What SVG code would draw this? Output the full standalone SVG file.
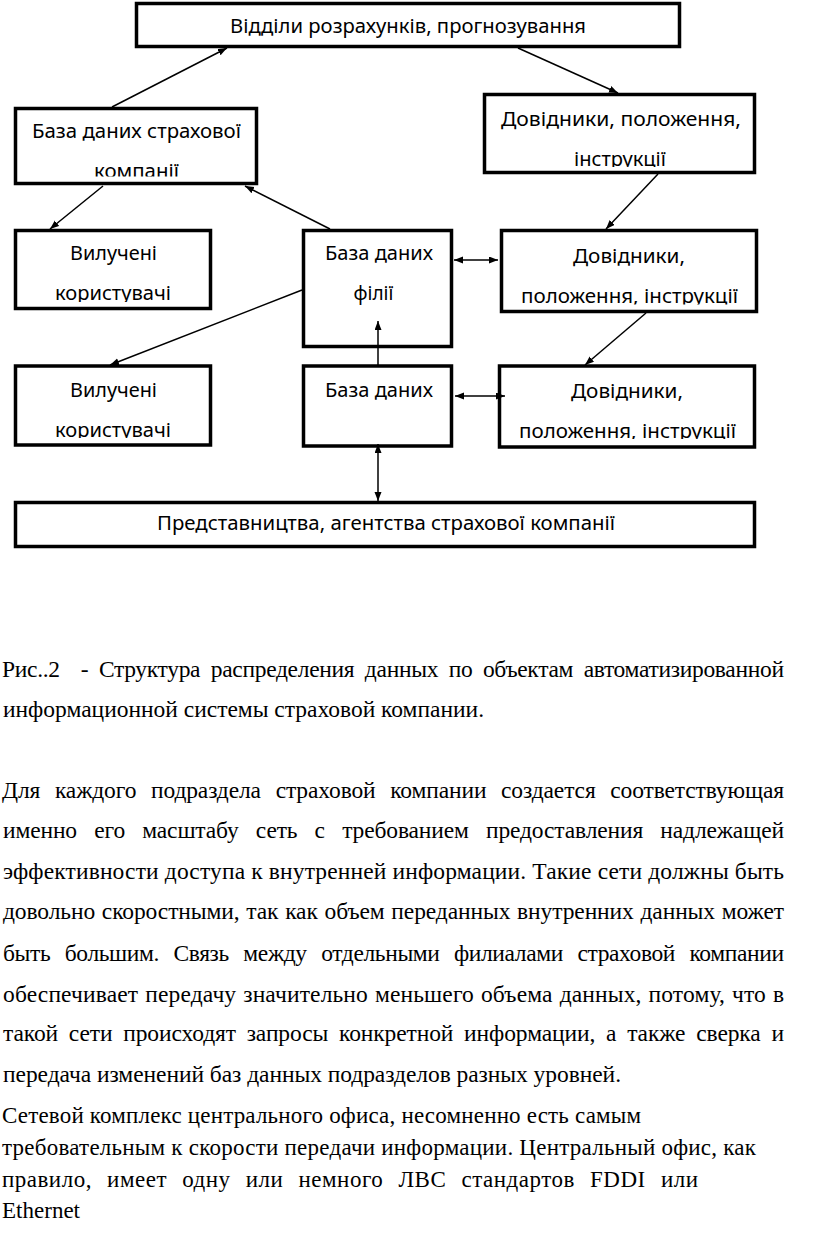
<svg xmlns="http://www.w3.org/2000/svg" width="816" height="1246" viewBox="0 0 816 1246">
<style>
.box{fill:#fff;stroke:#000;stroke-width:3.5}
.lbl{font-family:"Noto Sans","Open Sans","DejaVu Sans",sans-serif;font-size:19px;fill:#000;text-anchor:middle}
.con{stroke:#000;stroke-width:1.5;fill:none}
.par{font-family:"Liberation Serif","Times New Roman",serif;font-size:23.5px;fill:#000}
.par2{font-family:"Liberation Serif","Times New Roman",serif;font-size:23px;fill:#000}
</style>
<defs>
<marker id="ah" markerUnits="userSpaceOnUse" markerWidth="10" markerHeight="8" refX="9" refY="3.5" orient="auto-start-reverse">
<path d="M0,0 L9,3.5 L0,7 z" fill="#000"/>
</marker>
<clipPath id="c1"><rect x="16" y="109" width="240" height="67.5"/></clipPath>
<clipPath id="c2"><rect x="485" y="95" width="269" height="72"/></clipPath>
<clipPath id="c3"><rect x="16" y="231" width="194" height="71"/></clipPath>
<clipPath id="c4"><rect x="502" y="231" width="254" height="73.5"/></clipPath>
<clipPath id="c5"><rect x="16" y="367" width="194" height="71"/></clipPath>
<clipPath id="c6"><rect x="500" y="367" width="254" height="72"/></clipPath>
</defs>

<g id="node-top">
<rect class="box" x="136.5" y="3.5" width="543" height="43"/>
<text class="lbl" x="408" y="33" textLength="356" lengthAdjust="spacingAndGlyphs">Відділи розрахунків, прогнозування</text>
</g>
<g id="node-db-company">
<rect class="box" x="15.5" y="108.5" width="241" height="75"/>
<text class="lbl" x="136.5" y="138" textLength="209" lengthAdjust="spacingAndGlyphs">База даних страхової</text>
<text class="lbl" x="136.5" y="178" textLength="85" lengthAdjust="spacingAndGlyphs" clip-path="url(#c1)">компанії</text>
</g>
<g id="node-ref-top">
<rect class="box" x="484.5" y="94.5" width="270" height="78"/>
<text class="lbl" x="621" y="126" textLength="240" lengthAdjust="spacingAndGlyphs">Довідники, положення,</text>
<text class="lbl" x="620" y="166" textLength="92" lengthAdjust="spacingAndGlyphs" clip-path="url(#c2)">інструкції</text>
</g>
<g id="node-users-1">
<rect class="box" x="15.5" y="230.5" width="195" height="78"/>
<text class="lbl" x="113.5" y="260" textLength="87" lengthAdjust="spacingAndGlyphs">Вилучені</text>
<text class="lbl" x="113" y="300" textLength="116" lengthAdjust="spacingAndGlyphs" clip-path="url(#c3)">користувачі</text>
</g>
<g id="node-db-branch">
<rect class="box" x="303.5" y="230.5" width="148" height="116"/>
<text class="lbl" x="379" y="260" textLength="108" lengthAdjust="spacingAndGlyphs">База даних</text>
<text class="lbl" x="373.5" y="300">філії</text>
</g>
<g id="node-ref-1">
<rect class="box" x="501.5" y="230.5" width="255" height="81"/>
<text class="lbl" x="629" y="263" textLength="112" lengthAdjust="spacingAndGlyphs">Довідники,</text>
<text class="lbl" x="629.5" y="303" textLength="217" lengthAdjust="spacingAndGlyphs" clip-path="url(#c4)">положення, інструкції</text>
</g>
<g id="node-users-2">
<rect class="box" x="15.5" y="366" width="195" height="79"/>
<text class="lbl" x="113.5" y="397" textLength="87" lengthAdjust="spacingAndGlyphs">Вилучені</text>
<text class="lbl" x="113" y="437" textLength="116" lengthAdjust="spacingAndGlyphs" clip-path="url(#c5)">користувачі</text>
</g>
<g id="node-db-2">
<rect class="box" x="303.5" y="366" width="148" height="80"/>
<text class="lbl" x="379" y="397" textLength="108" lengthAdjust="spacingAndGlyphs">База даних</text>
</g>
<g id="node-ref-2">
<rect class="box" x="499.5" y="366" width="255" height="81"/>
<text class="lbl" x="627" y="398" textLength="112" lengthAdjust="spacingAndGlyphs">Довідники,</text>
<text class="lbl" x="627.5" y="438" textLength="217" lengthAdjust="spacingAndGlyphs" clip-path="url(#c6)">положення, інструкції</text>
</g>
<g id="node-bottom">
<rect class="box" x="15.5" y="502.5" width="739" height="44"/>
<text class="lbl" x="386" y="530" textLength="458" lengthAdjust="spacingAndGlyphs">Представництва, агентства страхової компанії</text>
</g>

<g id="connectors">
<line class="con" x1="112" y1="107" x2="227" y2="48" marker-end="url(#ah)"/>
<line class="con" x1="518" y1="48" x2="618" y2="93" marker-end="url(#ah)"/>
<line class="con" x1="103" y1="186" x2="50" y2="229" marker-end="url(#ah)"/>
<line class="con" x1="330" y1="229" x2="245" y2="186" marker-end="url(#ah)"/>
<line class="con" x1="658" y1="174" x2="606" y2="229" marker-end="url(#ah)"/>
<line class="con" x1="454" y1="260" x2="498" y2="260" marker-start="url(#ah)" marker-end="url(#ah)"/>
<line class="con" x1="302" y1="290" x2="110" y2="365" marker-end="url(#ah)"/>
<line class="con" x1="646" y1="313" x2="585" y2="365" marker-end="url(#ah)"/>
<line class="con" x1="378" y1="365" x2="378" y2="321" marker-end="url(#ah)"/>
<line class="con" x1="455" y1="396" x2="505" y2="396" marker-start="url(#ah)" marker-end="url(#ah)"/>
<line class="con" x1="378" y1="444" x2="378" y2="501" marker-start="url(#ah)" marker-end="url(#ah)"/>
</g>

<g id="caption-text">
<text class="par" x="2" y="677" xml:space="preserve" word-spacing="5" textLength="782" lengthAdjust="spacing">Рис..2  - Структура распределения данных по объектам автоматизированной</text>
<text class="par" x="3" y="717" textLength="481" lengthAdjust="spacing">информационной системы страховой компании.</text>
<text class="par" x="2" y="798" word-spacing="9" textLength="782" lengthAdjust="spacing">Для каждого подраздела страховой компании создается соответствующая</text>
<text class="par" x="3" y="838" word-spacing="11.5" textLength="781" lengthAdjust="spacing">именно его масштабу сеть с требованием предоставления надлежащей</text>
<text class="par" x="3" y="879" textLength="781" lengthAdjust="spacing">эффективности доступа к внутренней информации. Такие сети должны быть</text>
<text class="par" x="3" y="919" word-spacing="1" textLength="781" lengthAdjust="spacing">довольно скоростными, так как объем переданных внутренних данных может</text>
<text class="par" x="3" y="961" word-spacing="9" textLength="781" lengthAdjust="spacing">быть большим. Связь между отдельными филиалами страховой компании</text>
<text class="par" x="3" y="1002" word-spacing="1" textLength="781" lengthAdjust="spacing">обеспечивает передачу значительно меньшего объема данных, потому, что в</text>
<text class="par" x="3" y="1041" word-spacing="5" textLength="781" lengthAdjust="spacing">такой сети происходят запросы конкретной информации, а также сверка и</text>
<text class="par" x="3" y="1082" textLength="618" lengthAdjust="spacing">передача изменений баз данных подразделов разных уровней.</text>
<text class="par2" x="2" y="1123" textLength="639" lengthAdjust="spacing">Сетевой комплекс центрального офиса, несомненно есть самым</text>
<text class="par2" x="2" y="1155" textLength="754" lengthAdjust="spacing">требовательным к скорости передачи информации. Центральный офис, как</text>
<text class="par2" x="2" y="1187" word-spacing="9" textLength="696" lengthAdjust="spacing">правило, имеет одну или немного ЛВС стандартов FDDI или</text>
<text class="par2" x="2" y="1218" textLength="78" lengthAdjust="spacing">Ethernet</text>
</g>
</svg>
